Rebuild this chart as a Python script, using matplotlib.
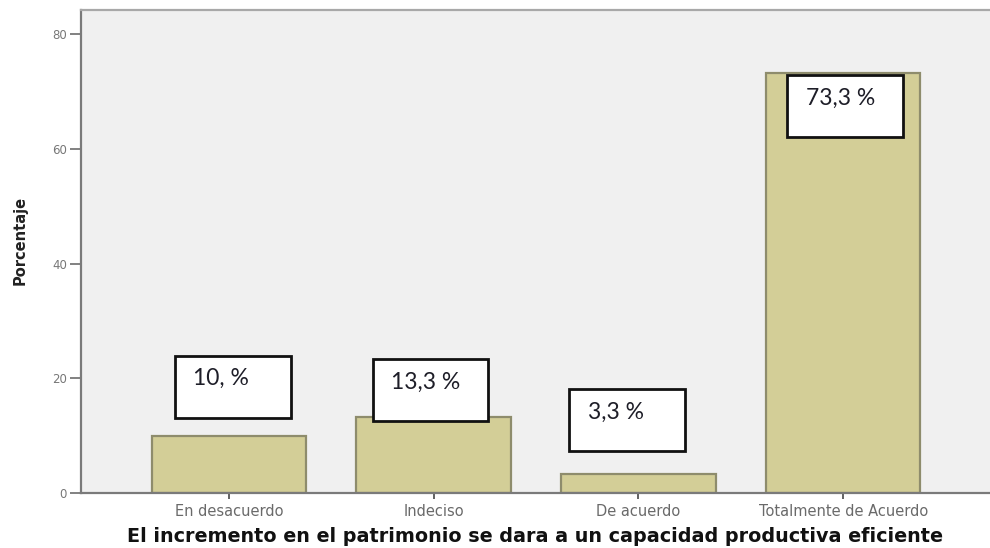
import matplotlib
matplotlib.use("Agg")
import matplotlib.pyplot as plt
from matplotlib.patches import Rectangle

categories = ["En desacuerdo", "Indeciso", "De acuerdo", "Totalmente de Acuerdo"]
values = [10.0, 13.3, 3.3, 73.3]
labels = ["10, %", "13,3 %", "3,3 %", "73,3 %"]
yticks = [0, 20, 40, 60, 80]
xlabel = "El incremento en el patrimonio se dara a un capacidad productiva eficiente"
ylabel = "Porcentaje"

# annotation box geometry (offsets relative to bar index / data units)
box_x0 = [-0.264, -0.298, -0.337, -0.274]
box_y0 = [13.1, 12.5, 7.3, 62.0]
box_w = 0.565
box_h = 10.8

fig = plt.figure(figsize=(9.9, 5.48), dpi=100)
fig.patch.set_facecolor("white")
ax = fig.add_axes([0.0818, 0.1004, 0.9182, 0.8814])
ax.set_facecolor("#F0F0F0")

x = list(range(len(categories)))
ax.bar(x, values, width=0.755, color="#D3CE97", edgecolor="#8E8C6C", linewidth=1.6, zorder=2)

for i in x:
    r = Rectangle((i + box_x0[i], box_y0[i]), box_w, box_h, facecolor="white",
                  edgecolor="#111111", linewidth=2.0, zorder=3)
    ax.add_patch(r)
    ax.text(i + box_x0[i] + 0.09, box_y0[i] + box_h * 0.63, labels[i],
            fontsize=16.5, family="Lato", color="#1e1e28", ha="left", va="center", zorder=4)

ax.set_xlim(-0.723, 3.717)
ax.set_ylim(0, 84.2)
ax.set_yticks(yticks)
ax.set_yticklabels([str(t) for t in yticks], fontsize=8.5, color="#777777")
ax.set_xticks(x)
ax.set_xticklabels(categories, fontsize=10.5, color="#6a6a6a")
ax.tick_params(axis="y", length=8, width=1.3, color="#777777", pad=2)
ax.tick_params(axis="x", length=4, width=1.3, color="#555555", pad=4)

for s in ["left", "bottom"]:
    ax.spines[s].set_color("#7a7a7a")
    ax.spines[s].set_linewidth(1.6)
ax.spines["top"].set_color("#a8a8a8")
ax.spines["top"].set_linewidth(1.6)
ax.spines["right"].set_visible(False)

ax.set_xlabel(xlabel, fontsize=13.8, fontweight="bold", color="#111111")
ax.xaxis.set_label_coords(0.5, -0.091)
ax.xaxis.label.set_va("center")
ax.set_ylabel(ylabel, fontsize=10.5, fontweight="bold", color="#222222")
ax.yaxis.set_label_coords(-0.067, 0.522)
ax.yaxis.label.set_va("center")

fig.savefig("out.png", dpi=100)
